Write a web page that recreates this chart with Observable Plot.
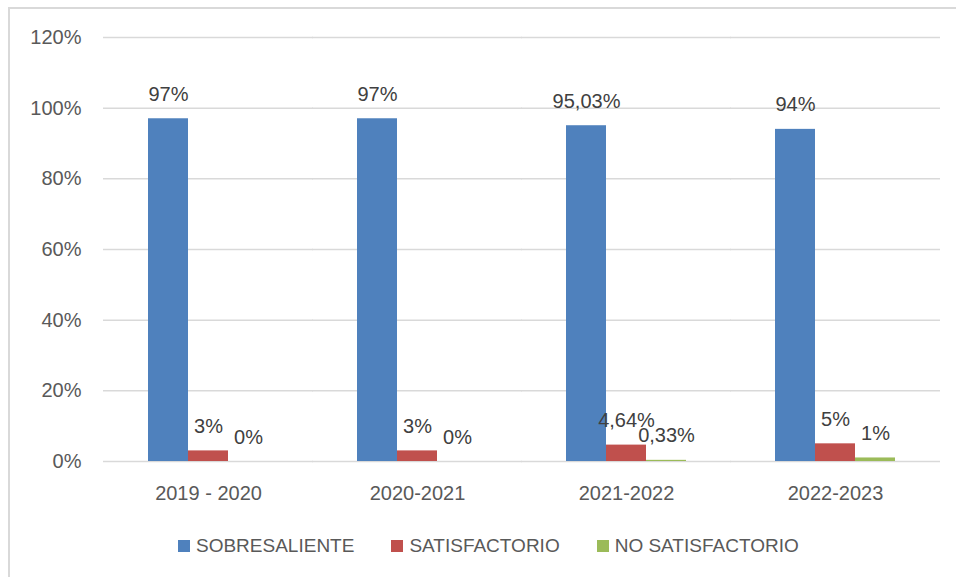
<!DOCTYPE html>
<html>
<head>
<meta charset="utf-8">
<script src="https://cdn.jsdelivr.net/npm/d3@7"></script>
<script src="https://cdn.jsdelivr.net/npm/@observablehq/plot@0.6"></script>
<style>
  body { margin: 0; background: #fff; font-family: "Liberation Sans", Arial, sans-serif; }
  #wrap { position: relative; width: 956px; height: 577px; overflow: hidden; background: #fff; }
  #border { position: absolute; left: 8px; top: 7px; width: 1000px; height: 1000px; border: 2px solid #d9d9d9; box-sizing: border-box; }
  #chart { position: absolute; left: 0; top: 0; }
  #legend { position: absolute; left: 178px; top: 535px; display: flex; gap: 37px; font-size: 19px; color: #595959; white-space: nowrap; }
  .item { display: flex; align-items: center; gap: 6px; }
  .sw { width: 12px; height: 12px; display: inline-block; }
</style>
</head>
<body>
<div id="wrap">
  <div id="border"></div>
  <div id="chart"></div>
  <div id="legend"></div>
</div>
<script>
const years = ["2019 - 2020", "2020-2021", "2021-2022", "2022-2023"];
const series = ["SOBRESALIENTE", "SATISFACTORIO", "NO SATISFACTORIO"];
const sobresaliente = [97, 97, 95.03, 94];
const satisfactorio = [3, 3, 4.64, 5];
const noSatisfactorio = [0, 0, 0.33, 1];
const colors = ["#4f81bd", "#c0504d", "#9bbb59"];
const yTicks = [0, 20, 40, 60, 80, 100, 120];

const valuesBySeries = [sobresaliente, satisfactorio, noSatisfactorio];
const data = years.flatMap((yr, i) =>
  series.map((s, j) => ({ year: yr, series: s, value: valuesBySeries[j][i] }))
);
const fmt = v => String(v).replace(".", ",") + "%";

const chart = Plot.plot({
  width: 956,
  height: 510,
  marginLeft: 103,
  marginRight: 16,
  marginTop: 37,
  marginBottom: 49,
  style: { fontFamily: "'Liberation Sans', Arial, sans-serif", fontSize: "20px", color: "#595959", background: "transparent" },
  fx: { domain: years, paddingInner: 0.4266, paddingOuter: 0.2133, label: null },
  x: { domain: series, padding: 0, axis: null },
  y: { domain: [0, 120], label: null },
  color: { domain: series, range: colors },
  marks: [
    Plot.ruleY(yTicks, { y: d => d, stroke: "#d9d9d9", strokeWidth: 1.5, insetLeft: -45, insetRight: -45 }),
    Plot.axisY({ ticks: yTicks, tickSize: 0, tickPadding: 67, tickFormat: d => d + "%", label: null, fill: "#595959", fontSize: 20 }),
    Plot.axisFx({ anchor: "bottom", tickSize: 0, tickPadding: 24, label: null, fill: "#595959", fontSize: 20 }),
    Plot.barY(data, { fx: "year", x: "series", y: "value", fill: "series" }),
    Plot.text(data, { fx: "year", x: "series", y: "value", text: d => fmt(d.value), dy: -18, lineAnchor: "bottom", fill: "#404040", fontSize: 20 })
  ]
});
document.getElementById("chart").appendChild(chart);

const legend = document.getElementById("legend");
series.forEach((s, i) => {
  const item = document.createElement("div");
  item.className = "item";
  const sw = document.createElement("span");
  sw.className = "sw";
  sw.style.background = colors[i];
  const t = document.createElement("span");
  t.textContent = s;
  item.appendChild(sw);
  item.appendChild(t);
  legend.appendChild(item);
});
</script>
</body>
</html>
